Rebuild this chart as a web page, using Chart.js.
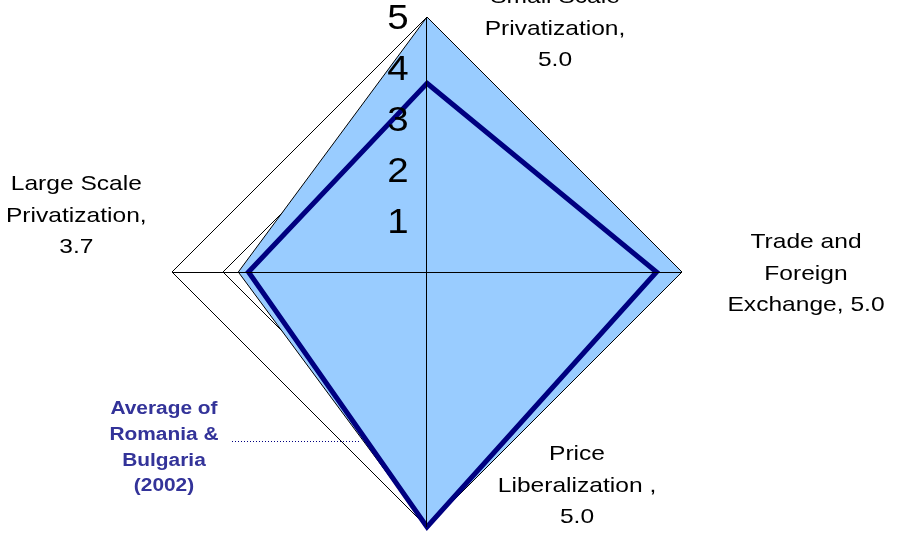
<!DOCTYPE html>
<html>
<head>
<meta charset="utf-8">
<script src="https://cdn.jsdelivr.net/npm/chart.js@4.4.1/dist/chart.umd.min.js"></script>
<style>
  html, body { margin: 0; padding: 0; background: #fff; }
  canvas { display: block; }
</style>
</head>
<body>
<canvas id="reform" width="919" height="540"></canvas>
<script>
// categories, clockwise from the top
const categoryLines = [
  ['Small Scale', 'Privatization,'],
  ['Trade and', 'Foreign', 'Exchange,'],
  ['Price', 'Liberalization ,'],
  ['Large Scale', 'Privatization,']
];
const countryValues = [5.0, 5.0, 5.0, 3.7];
const averageValues = [3.7, 4.5, 5.0, 3.5];
const averageLabel = ['Average of', 'Romania &', 'Bulgaria', '(2002)'];

const FONT = "'Liberation Sans', Arial, sans-serif";

function wideText(ctx, text, x, y, sx) {
  ctx.save();
  ctx.translate(x, y);
  ctx.scale(sx, 1);
  ctx.fillText(text, 0, 0);
  ctx.restore();
}

const overlayPlugin = {
  id: 'overlay',
  afterDatasetsDraw(chart) {
    const ctx = chart.ctx;
    const r = chart.scales.r;
    ctx.save();

    // axis lines sit on top of the filled area (snapped to whole pixels)
    ctx.strokeStyle = '#000';
    ctx.lineWidth = 1;
    ctx.beginPath();
    for (let i = 0; i < chart.data.labels.length; i++) {
      const p = r.getPointPositionForValue(i, r.max);
      const vert = Math.abs(p.x - r.xCenter) < 1;
      const dx = vert ? -0.5 : 0;
      const dy = vert ? 0 : 0.5;
      ctx.moveTo(r.xCenter + dx, r.yCenter + dy);
      ctx.lineTo(p.x + dx, p.y + dy);
    }
    ctx.stroke();

    // tick numbers, left of the vertical axis
    ctx.fillStyle = '#000';
    ctx.textAlign = 'center';
    ctx.textBaseline = 'middle';
    ctx.font = '35px ' + FONT;
    r.ticks.forEach(t => {
      if (t.value <= 0) return;
      const y = r.yCenter - r.getDistanceFromCenterForValue(t.value) + 2;
      wideText(ctx, String(t.value), r.xCenter - 29, y, 1.1);
    });

    // data labels: category name + value
    const offsets = [[128, 12], [124, 2], [150, -41], [-162, -56]];
    const sameLine = [false, true, false, false];
    ctx.font = '21px ' + FONT;
    categoryLines.forEach((lines, i) => {
      const v = countryValues[i].toFixed(1);
      const txt = lines.slice();
      if (sameLine[i]) txt[txt.length - 1] += ' ' + v; else txt.push(v);
      const p = r.getPointPositionForValue(i, countryValues[i]);
      const cx = p.x + offsets[i][0];
      const cy = p.y + offsets[i][1];
      const lh = 31.5;
      const y0 = cy - (txt.length - 1) * lh / 2;
      txt.forEach((s, k) => wideText(ctx, s, cx, y0 + k * lh, 1.17));
    });

    // series callout
    ctx.fillStyle = '#333399';
    ctx.font = 'bold 18px ' + FONT;
    averageLabel.forEach((s, k) => wideText(ctx, s, 164, 409 + k * 25.8, 1.16));
    ctx.strokeStyle = '#000080';
    ctx.setLineDash([1, 2]);
    ctx.beginPath();
    ctx.moveTo(232, 441.5);
    ctx.lineTo(360, 441.5);
    ctx.stroke();

    ctx.restore();
  }
};

new Chart('reform', {
  type: 'radar',
  data: {
    labels: categoryLines.map(l => l.join(' ')),
    datasets: [
      {
        label: averageLabel.join(' '),
        data: averageValues,
        borderColor: '#000080',
        borderWidth: 5,
        borderJoinStyle: 'miter',
        fill: false,
        pointRadius: 0,
        tension: 0
      },
      {
        label: 'Country',
        data: countryValues,
        borderColor: '#000',
        borderWidth: 1,
        backgroundColor: '#99CCFF',
        fill: true,
        pointRadius: 0,
        tension: 0
      }
    ]
  },
  options: {
    responsive: false,
    animation: false,
    layout: { padding: { left: 172, right: 237, top: 17, bottom: 13 } },
    scales: {
      r: {
        min: 0,
        max: 5,
        ticks: { stepSize: 1, display: false },
        pointLabels: { display: false },
        angleLines: { display: false },
        grid: { circular: false, color: '#000', lineWidth: 1 }
      }
    },
    plugins: {
      legend: { display: false },
      tooltip: { enabled: false }
    }
  },
  plugins: [overlayPlugin]
});
</script>
</body>
</html>
